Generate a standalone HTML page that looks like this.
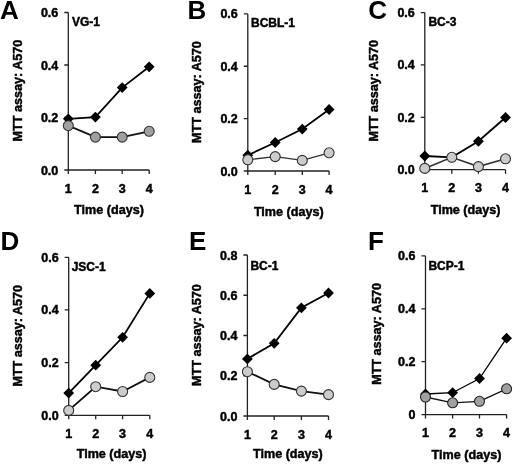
<!DOCTYPE html>
<html><head><meta charset="utf-8"><style>
html,body{margin:0;padding:0;background:#fff;}
body{width:520px;height:465px;overflow:hidden;}
svg{display:block;will-change:transform;}
.b{font-family:"Liberation Sans", sans-serif;font-weight:bold;fill:#000;stroke:#000;stroke-width:0.45px;}
</style></head><body>
<svg width="520" height="465" viewBox="0 0 520 465">
<rect width="520" height="465" fill="#fff"/>
<text x="-0.1" y="18.8" font-size="26" class="b" style="stroke-width:0">A</text>
<text transform="translate(17.4 90.55) rotate(-90)" text-anchor="middle" font-size="12.6" class="b" dy="4.51">MTT assay: A570</text>
<path d="M68.3 12.5V170H149.2" fill="none" stroke="#222" stroke-width="1.3"/>
<path d="M64.3 170H68.3M64.3 117.5H68.3M64.3 65H68.3M64.3 12.5H68.3M68.3 170V174M95.4 170V174M122.2 170V174M149.2 170V174" fill="none" stroke="#222" stroke-width="1.3"/>
<text x="58.3" y="174.5" font-size="12.5" class="b" text-anchor="end">0.0</text>
<text x="58.3" y="122" font-size="12.5" class="b" text-anchor="end">0.2</text>
<text x="58.3" y="69.5" font-size="12.5" class="b" text-anchor="end">0.4</text>
<text x="58.3" y="17" font-size="12.5" class="b" text-anchor="end">0.6</text>
<text x="68.3" y="192.6" font-size="12.5" class="b" text-anchor="middle">1</text>
<text x="95.4" y="192.6" font-size="12.5" class="b" text-anchor="middle">2</text>
<text x="122.2" y="192.6" font-size="12.5" class="b" text-anchor="middle">3</text>
<text x="149.2" y="192.6" font-size="12.5" class="b" text-anchor="middle">4</text>
<text x="74.1" y="213.9" font-size="12.6" class="b">Time (days)</text>
<text x="71.9" y="25.9" font-size="12" class="b">VG-1</text>
<polyline points="68.3,118.8 95.4,117.1 122.2,87.6 149.2,66.8" fill="none" stroke="#000" stroke-width="1.8"/>
<path d="M68.3 113.4L73.7 118.8L68.3 124.2L62.9 118.8Z" fill="#000"/>
<path d="M95.4 111.7L100.8 117.1L95.4 122.5L90 117.1Z" fill="#000"/>
<path d="M122.2 82.2L127.6 87.6L122.2 93L116.8 87.6Z" fill="#000"/>
<path d="M149.2 61.4L154.6 66.8L149.2 72.2L143.8 66.8Z" fill="#000"/>
<polyline points="68.3,125.7 95.4,137.1 122.2,137.1 149.2,131.3" fill="none" stroke="#111" stroke-width="1.8"/>
<circle cx="68.3" cy="125.7" r="5" fill="#a0a0a0" stroke="#333" stroke-width="1.1"/>
<circle cx="95.4" cy="137.1" r="5" fill="#a0a0a0" stroke="#333" stroke-width="1.1"/>
<circle cx="122.2" cy="137.1" r="5" fill="#a0a0a0" stroke="#333" stroke-width="1.1"/>
<circle cx="149.2" cy="131.3" r="5" fill="#a0a0a0" stroke="#333" stroke-width="1.1"/>
<text x="187.56" y="18.8" font-size="26" class="b" style="stroke-width:0">B</text>
<text transform="translate(196.6 92.05) rotate(-90)" text-anchor="middle" font-size="12.6" class="b" dy="4.51">MTT assay: A570</text>
<path d="M247.8 13.9V171H329.1" fill="none" stroke="#222" stroke-width="1.3"/>
<path d="M243.8 171H247.8M243.8 118.63H247.8M243.8 66.27H247.8M243.8 13.9H247.8M247.8 171V175M275.2 171V175M302.3 171V175M329.1 171V175" fill="none" stroke="#222" stroke-width="1.3"/>
<text x="237.8" y="175.5" font-size="12.5" class="b" text-anchor="end">0.0</text>
<text x="237.8" y="123.13" font-size="12.5" class="b" text-anchor="end">0.2</text>
<text x="237.8" y="70.77" font-size="12.5" class="b" text-anchor="end">0.4</text>
<text x="237.8" y="18.4" font-size="12.5" class="b" text-anchor="end">0.6</text>
<text x="247.8" y="193.6" font-size="12.5" class="b" text-anchor="middle">1</text>
<text x="275.2" y="193.6" font-size="12.5" class="b" text-anchor="middle">2</text>
<text x="302.3" y="193.6" font-size="12.5" class="b" text-anchor="middle">3</text>
<text x="329.1" y="193.6" font-size="12.5" class="b" text-anchor="middle">4</text>
<text x="253.9" y="215.5" font-size="12.6" class="b">Time (days)</text>
<text x="251" y="26.8" font-size="12" class="b">BCBL-1</text>
<polyline points="247.8,155.2 275.2,142.5 302.3,129.1 329.1,109.5" fill="none" stroke="#000" stroke-width="1.8"/>
<path d="M247.8 149.8L253.2 155.2L247.8 160.6L242.4 155.2Z" fill="#000"/>
<path d="M275.2 137.1L280.6 142.5L275.2 147.9L269.8 142.5Z" fill="#000"/>
<path d="M302.3 123.7L307.7 129.1L302.3 134.5L296.9 129.1Z" fill="#000"/>
<path d="M329.1 104.1L334.5 109.5L329.1 114.9L323.7 109.5Z" fill="#000"/>
<polyline points="247.8,159.8 275.2,156.6 302.3,160.4 329.1,152.8" fill="none" stroke="#333" stroke-width="1.4"/>
<circle cx="247.8" cy="159.8" r="5" fill="#cccccc" stroke="#333" stroke-width="1.1"/>
<circle cx="275.2" cy="156.6" r="5" fill="#cccccc" stroke="#333" stroke-width="1.1"/>
<circle cx="302.3" cy="160.4" r="5" fill="#cccccc" stroke="#333" stroke-width="1.1"/>
<circle cx="329.1" cy="152.8" r="5" fill="#cccccc" stroke="#333" stroke-width="1.1"/>
<text x="368.3" y="18.85" font-size="26" class="b" style="stroke-width:0">C</text>
<text transform="translate(373.4 90.75) rotate(-90)" text-anchor="middle" font-size="12.6" class="b" dy="4.51">MTT assay: A570</text>
<path d="M424.8 12.6V169.7H505.5" fill="none" stroke="#222" stroke-width="1.3"/>
<path d="M420.8 169.7H424.8M420.8 117.33H424.8M420.8 64.97H424.8M420.8 12.6H424.8M424.8 169.7V173.7M451.8 169.7V173.7M478.4 169.7V173.7M505.5 169.7V173.7" fill="none" stroke="#222" stroke-width="1.3"/>
<text x="414.8" y="174.2" font-size="12.5" class="b" text-anchor="end">0.0</text>
<text x="414.8" y="121.83" font-size="12.5" class="b" text-anchor="end">0.2</text>
<text x="414.8" y="69.47" font-size="12.5" class="b" text-anchor="end">0.4</text>
<text x="414.8" y="17.1" font-size="12.5" class="b" text-anchor="end">0.6</text>
<text x="424.8" y="192.3" font-size="12.5" class="b" text-anchor="middle">1</text>
<text x="451.8" y="192.3" font-size="12.5" class="b" text-anchor="middle">2</text>
<text x="478.4" y="192.3" font-size="12.5" class="b" text-anchor="middle">3</text>
<text x="505.5" y="192.3" font-size="12.5" class="b" text-anchor="middle">4</text>
<text x="430.7" y="213.8" font-size="12.6" class="b">Time (days)</text>
<text x="428.4" y="26" font-size="12" class="b">BC-3</text>
<polyline points="424.8,156 451.8,157.3 478.4,141.3 505.5,117.5" fill="none" stroke="#000" stroke-width="1.8"/>
<path d="M424.8 150.6L430.2 156L424.8 161.4L419.4 156Z" fill="#000"/>
<path d="M451.8 151.9L457.2 157.3L451.8 162.7L446.4 157.3Z" fill="#000"/>
<path d="M478.4 135.9L483.8 141.3L478.4 146.7L473 141.3Z" fill="#000"/>
<path d="M505.5 112.1L510.9 117.5L505.5 122.9L500.1 117.5Z" fill="#000"/>
<polyline points="424.8,168.4 451.8,157.3 478.4,166.6 505.5,158.8" fill="none" stroke="#333" stroke-width="1.6"/>
<circle cx="424.8" cy="168.4" r="5" fill="#cccccc" stroke="#333" stroke-width="1.1"/>
<circle cx="451.8" cy="157.3" r="5" fill="#cccccc" stroke="#333" stroke-width="1.1"/>
<circle cx="478.4" cy="166.6" r="5" fill="#cccccc" stroke="#333" stroke-width="1.1"/>
<circle cx="505.5" cy="158.8" r="5" fill="#cccccc" stroke="#333" stroke-width="1.1"/>
<text x="0.4" y="249.5" font-size="26" class="b" style="stroke-width:0">D</text>
<text transform="translate(17.4 335.75) rotate(-90)" text-anchor="middle" font-size="12.6" class="b" dy="4.51">MTT assay: A570</text>
<path d="M68.7 257.3V415.3H149.8" fill="none" stroke="#222" stroke-width="1.3"/>
<path d="M64.7 415.3H68.7M64.7 362.63H68.7M64.7 309.97H68.7M64.7 257.3H68.7M68.7 415.3V419.3M95.7 415.3V419.3M122.6 415.3V419.3M149.8 415.3V419.3" fill="none" stroke="#222" stroke-width="1.3"/>
<text x="58.7" y="419.8" font-size="12.5" class="b" text-anchor="end">0.0</text>
<text x="58.7" y="367.13" font-size="12.5" class="b" text-anchor="end">0.2</text>
<text x="58.7" y="314.47" font-size="12.5" class="b" text-anchor="end">0.4</text>
<text x="58.7" y="261.8" font-size="12.5" class="b" text-anchor="end">0.6</text>
<text x="68.7" y="437.9" font-size="12.5" class="b" text-anchor="middle">1</text>
<text x="95.7" y="437.9" font-size="12.5" class="b" text-anchor="middle">2</text>
<text x="122.6" y="437.9" font-size="12.5" class="b" text-anchor="middle">3</text>
<text x="149.8" y="437.9" font-size="12.5" class="b" text-anchor="middle">4</text>
<text x="76.7" y="457.9" font-size="12.6" class="b">Time (days)</text>
<text x="71.7" y="270.8" font-size="12" class="b">JSC-1</text>
<polyline points="68.7,393.1 95.7,365.2 122.6,337.3 149.8,293.4" fill="none" stroke="#000" stroke-width="1.8"/>
<path d="M68.7 387.7L74.1 393.1L68.7 398.5L63.3 393.1Z" fill="#000"/>
<path d="M95.7 359.8L101.1 365.2L95.7 370.6L90.3 365.2Z" fill="#000"/>
<path d="M122.6 331.9L128 337.3L122.6 342.7L117.2 337.3Z" fill="#000"/>
<path d="M149.8 288L155.2 293.4L149.8 298.8L144.4 293.4Z" fill="#000"/>
<polyline points="68.7,410.4 95.7,386.7 122.6,391.5 149.8,377.4" fill="none" stroke="#111" stroke-width="1.8"/>
<circle cx="68.7" cy="410.4" r="5" fill="#cccccc" stroke="#333" stroke-width="1.1"/>
<circle cx="95.7" cy="386.7" r="5" fill="#cccccc" stroke="#333" stroke-width="1.1"/>
<circle cx="122.6" cy="391.5" r="5" fill="#cccccc" stroke="#333" stroke-width="1.1"/>
<circle cx="149.8" cy="377.4" r="5" fill="#cccccc" stroke="#333" stroke-width="1.1"/>
<text x="188.9" y="249.5" font-size="26" class="b" style="stroke-width:0">E</text>
<text transform="translate(196.3 335.05) rotate(-90)" text-anchor="middle" font-size="12.6" class="b" dy="4.51">MTT assay: A570</text>
<path d="M247.4 255V416H328.5" fill="none" stroke="#222" stroke-width="1.3"/>
<path d="M243.4 416H247.4M243.4 375.75H247.4M243.4 335.5H247.4M243.4 295.25H247.4M243.4 255H247.4M247.4 416V420M274.2 416V420M301.4 416V420M328.5 416V420" fill="none" stroke="#222" stroke-width="1.3"/>
<text x="237.4" y="420.5" font-size="12.5" class="b" text-anchor="end">0.0</text>
<text x="237.4" y="380.25" font-size="12.5" class="b" text-anchor="end">0.2</text>
<text x="237.4" y="340" font-size="12.5" class="b" text-anchor="end">0.4</text>
<text x="237.4" y="299.75" font-size="12.5" class="b" text-anchor="end">0.6</text>
<text x="237.4" y="259.5" font-size="12.5" class="b" text-anchor="end">0.8</text>
<text x="247.4" y="438.6" font-size="12.5" class="b" text-anchor="middle">1</text>
<text x="274.2" y="438.6" font-size="12.5" class="b" text-anchor="middle">2</text>
<text x="301.4" y="438.6" font-size="12.5" class="b" text-anchor="middle">3</text>
<text x="328.5" y="438.6" font-size="12.5" class="b" text-anchor="middle">4</text>
<text x="253" y="457.6" font-size="12.6" class="b">Time (days)</text>
<text x="250.4" y="270" font-size="12" class="b">BC-1</text>
<polyline points="247.4,358.9 274.2,343.3 301.4,307.8 328.5,293" fill="none" stroke="#000" stroke-width="1.8"/>
<path d="M247.4 353.5L252.8 358.9L247.4 364.3L242 358.9Z" fill="#000"/>
<path d="M274.2 337.9L279.6 343.3L274.2 348.7L268.8 343.3Z" fill="#000"/>
<path d="M301.4 302.4L306.8 307.8L301.4 313.2L296 307.8Z" fill="#000"/>
<path d="M328.5 287.6L333.9 293L328.5 298.4L323.1 293Z" fill="#000"/>
<polyline points="247.4,371.7 274.2,384.4 301.4,391.1 328.5,394.6" fill="none" stroke="#111" stroke-width="1.8"/>
<circle cx="247.4" cy="371.7" r="5" fill="#cccccc" stroke="#333" stroke-width="1.1"/>
<circle cx="274.2" cy="384.4" r="5" fill="#cccccc" stroke="#333" stroke-width="1.1"/>
<circle cx="301.4" cy="391.1" r="5" fill="#cccccc" stroke="#333" stroke-width="1.1"/>
<circle cx="328.5" cy="394.6" r="5" fill="#cccccc" stroke="#333" stroke-width="1.1"/>
<text x="368.1" y="249.7" font-size="26" class="b" style="stroke-width:0">F</text>
<text transform="translate(376.1 333.95) rotate(-90)" text-anchor="middle" font-size="12.6" class="b" dy="4.51">MTT assay: A570</text>
<path d="M425.5 255.9V414.6H506.6" fill="none" stroke="#222" stroke-width="1.3"/>
<path d="M421.5 414.6H425.5M421.5 361.7H425.5M421.5 308.8H425.5M421.5 255.9H425.5M425.5 414.6V418.6M452.6 414.6V418.6M479.5 414.6V418.6M506.6 414.6V418.6" fill="none" stroke="#222" stroke-width="1.3"/>
<text x="415.5" y="419.1" font-size="12.5" class="b" text-anchor="end">0</text>
<text x="415.5" y="366.2" font-size="12.5" class="b" text-anchor="end">0.2</text>
<text x="415.5" y="313.3" font-size="12.5" class="b" text-anchor="end">0.4</text>
<text x="415.5" y="260.4" font-size="12.5" class="b" text-anchor="end">0.6</text>
<text x="425.5" y="437.2" font-size="12.5" class="b" text-anchor="middle">1</text>
<text x="452.6" y="437.2" font-size="12.5" class="b" text-anchor="middle">2</text>
<text x="479.5" y="437.2" font-size="12.5" class="b" text-anchor="middle">3</text>
<text x="506.6" y="437.2" font-size="12.5" class="b" text-anchor="middle">4</text>
<text x="431.6" y="458.5" font-size="12.6" class="b">Time (days)</text>
<text x="428.4" y="269.8" font-size="12" class="b">BCP-1</text>
<polyline points="425.5,394 452.6,392.7 479.5,378.5 506.6,338.2" fill="none" stroke="#000" stroke-width="1.3"/>
<path d="M425.5 388.6L430.9 394L425.5 399.4L420.1 394Z" fill="#000"/>
<path d="M452.6 387.3L458 392.7L452.6 398.1L447.2 392.7Z" fill="#000"/>
<path d="M479.5 373.1L484.9 378.5L479.5 383.9L474.1 378.5Z" fill="#000"/>
<path d="M506.6 332.8L512 338.2L506.6 343.6L501.2 338.2Z" fill="#000"/>
<polyline points="425.5,397 452.6,402.8 479.5,401.3 506.6,388.8" fill="none" stroke="#111" stroke-width="1.3"/>
<circle cx="425.5" cy="397" r="5" fill="#a0a0a0" stroke="#222" stroke-width="1.1"/>
<circle cx="452.6" cy="402.8" r="5" fill="#a0a0a0" stroke="#222" stroke-width="1.1"/>
<circle cx="479.5" cy="401.3" r="5" fill="#a0a0a0" stroke="#222" stroke-width="1.1"/>
<circle cx="506.6" cy="388.8" r="5" fill="#a0a0a0" stroke="#222" stroke-width="1.1"/>
</svg>
</body></html>
